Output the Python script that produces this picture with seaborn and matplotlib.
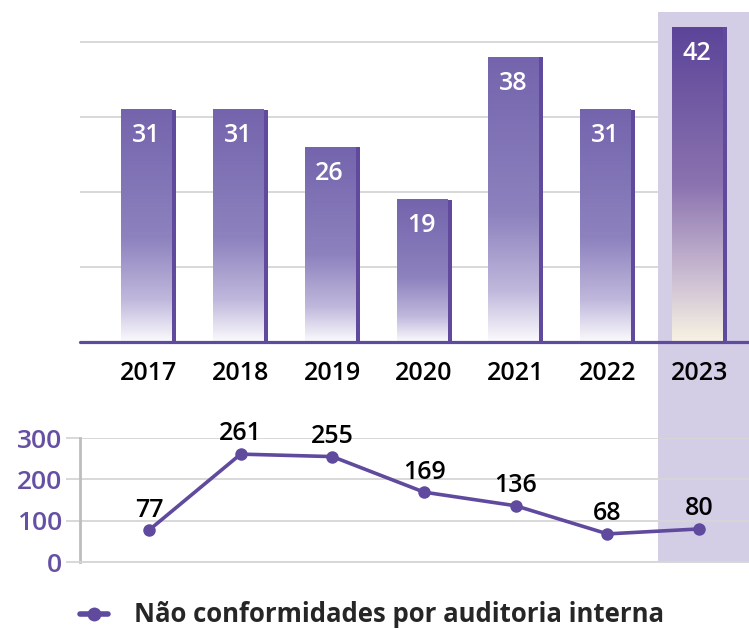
import numpy as np
import matplotlib.pyplot as plt
import seaborn as sns
from matplotlib.colors import LinearSegmentedColormap
from matplotlib.patches import Rectangle

# dados
anos = ["2017", "2018", "2019", "2020", "2021", "2022", "2023"]
nc_total = [31, 31, 26, 19, 38, 31, 42]
nc_auditoria = [77, 261, 255, 169, 136, 68, 80]
legenda = "Não conformidades por auditoria interna"

roxo = "#5f4a9e"
roxo_txt = "#6650a3"
destaque = "#d3cde6"
cinza = "#d6d6d6"

sns.set_theme(style="white")
plt.rcParams["font.family"] = ["Open Sans", "DejaVu Sans"]
peso = "semibold"

W, H = 749, 629
fig = plt.figure(figsize=(W / 100, H / 100), dpi=100)

# eixos em pixels
ax = fig.add_axes([80 / W, 1 - 342 / H, (W - 80) / W, 330 / H])
ax2 = fig.add_axes([80 / W, 1 - 562 / H, (W - 80) / W, 124 / H])
for a in (ax, ax2):
    a.set_facecolor("none")

xlim = (-0.752, 6.543)

# ---------- barras ----------
sns.barplot(x=anos, y=nc_total, ax=ax, width=0.6, color=roxo, saturation=1, zorder=2)

cm_normal = LinearSegmentedColormap.from_list(
    "n", [(0, "#fbfafd"), (0.18, "#c0b8dc"), (0.45, "#8d82be"), (1, "#7464ad")])
cm_2023 = LinearSegmentedColormap.from_list(
    "d", [(0, "#f7f3e3"), (0.2, "#cdbfd3"), (0.5, "#8b73b0"), (1, "#5c4499")])

grad = np.linspace(0, 1, 256).reshape(-1, 1)
for i, p in enumerate(ax.patches):
    x0, w, h = p.get_x(), p.get_width(), p.get_height()
    p.set_edgecolor("none")
    p.set_facecolor(roxo)
    cm = cm_2023 if i == len(anos) - 1 else cm_normal
    ax.imshow(grad, cmap=cm, origin="lower", aspect="auto",
              extent=(x0, x0 + w * 0.91, 0, h), zorder=3, interpolation="bicubic")
    ax.annotate(str(nc_total[i]), (x0 + w * 0.45, h), xytext=(0, -19),
                textcoords="offset points", ha="center", va="center",
                color="white", fontsize=18, fontweight=peso, zorder=5)

ax.set_xlim(*xlim)
ax.set_ylim(0, 44)
ax.set_yticks([10, 20, 30, 40])
ax.grid(axis="y", color=cinza, lw=1.3, zorder=0)
ax.grid(axis="x", visible=False)
ax.set_axisbelow(True)
ax.axvspan(5.55, xlim[1], color=destaque, zorder=1, lw=0)
ax.axhline(0, color=roxo, lw=2.3, zorder=6, clip_on=False)
ax.set_yticklabels([])
ax.tick_params(axis="y", length=0)
ax.tick_params(axis="x", length=0, pad=14, labelsize=18, labelcolor="black")
for t in ax.get_xticklabels():
    t.set_fontweight(peso)
ax.set_xlabel("")
ax.set_ylabel("")
sns.despine(ax=ax, left=True, bottom=True)

# faixa de destaque 2023 entre os dois gráficos
x_fig = fig.transFigure.inverted().transform(ax.transData.transform((5.55, 0)))[0]
y_bot = 1 - 562 / H
y_top = fig.transFigure.inverted().transform(ax.transData.transform((0, 44)))[1]
fig.patches.append(Rectangle((x_fig, y_bot), 1 - x_fig, y_top - y_bot,
                             transform=fig.transFigure, color=destaque, lw=0, zorder=-1))

# ---------- linha ----------
pos = np.arange(len(anos))
sns.lineplot(x=pos, y=nc_auditoria, ax=ax2, color=roxo, lw=2.6, marker="o",
             markersize=9, markeredgewidth=0, zorder=4, label=legenda, legend=False)
for xi, v in zip(pos, nc_auditoria):
    ax2.annotate(str(v), (xi, v), xytext=(0, 14.5), textcoords="offset points",
                 ha="center", va="center", fontsize=18, fontweight=peso,
                 color="black", annotation_clip=False)

ax2.set_xlim(*xlim)
ax2.set_ylim(0, 300)
ax2.set_yticks([0, 100, 200, 300])
ax2.set_xticks([])
ax2.grid(axis="y", color=cinza, lw=1.3, zorder=0)
ax2.set_axisbelow(True)
ax2.tick_params(axis="y", length=10, width=1.3, color=cinza, labelsize=19,
                labelcolor=roxo_txt, pad=3, left=True)
for t in ax2.get_yticklabels():
    t.set_fontweight(peso)
for s in ("top", "right"):
    ax2.spines[s].set_visible(False)
ax2.spines["left"].set_color("#bdbdbd")
ax2.spines["left"].set_linewidth(2)
ax2.spines["bottom"].set_color(cinza)
ax2.spines["bottom"].set_linewidth(1.3)

# legenda
h_, l_ = ax2.get_legend_handles_labels()
leg = fig.legend(h_, l_, loc="center left", bbox_to_anchor=(80 / W, 1 - 615 / H),
                 frameon=False, borderpad=0, borderaxespad=0, handlelength=1.1,
                 handletextpad=1.0, prop={"size": 18.5, "weight": "bold"})
for ln in leg.get_lines():
    ln.set_linewidth(4)
    ln.set_markersize(10)

fig.savefig("out.png", dpi=100)
